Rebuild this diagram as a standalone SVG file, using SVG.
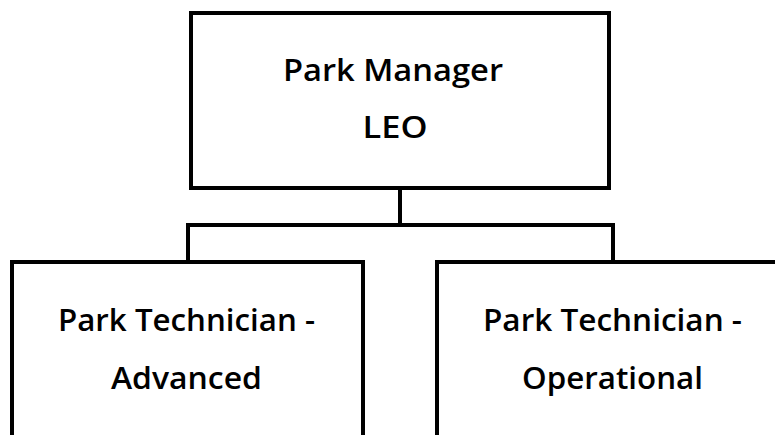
<svg xmlns="http://www.w3.org/2000/svg" width="775" height="435" viewBox="0 0 775 435">
<style>
.box{fill:#fff;stroke:#000;stroke-width:4}
.conn{fill:none;stroke:#000;stroke-width:4}
.lbl{font-family:"Open Sans","Noto Sans","Liberation Sans",sans-serif;font-size:31px;font-weight:600;fill:#000;text-anchor:middle}
</style>
<rect width="775" height="435" fill="#fff"/>
<g id="connectors">
<path class="conn" d="M400 188 V225 M188 225 H613 M188 223 V262 M613 223 V262"/>
</g>
<g id="node-manager">
<rect class="box" x="191" y="13" width="418" height="175"/>
<text class="lbl" x="393" y="81" textLength="220" lengthAdjust="spacingAndGlyphs">Park Manager</text>
<text class="lbl" x="395" y="138" textLength="65" lengthAdjust="spacingAndGlyphs">LEO</text>
</g>
<g id="node-advanced">
<rect class="box" x="12" y="262" width="351" height="190"/>
<text class="lbl" x="186.5" y="331" textLength="257" lengthAdjust="spacingAndGlyphs">Park Technician -</text>
<text class="lbl" x="186.5" y="389" textLength="151" lengthAdjust="spacingAndGlyphs">Advanced</text>
</g>
<g id="node-operational">
<rect class="box" x="437" y="262" width="351" height="190"/>
<text class="lbl" x="612.5" y="331" textLength="259" lengthAdjust="spacingAndGlyphs">Park Technician -</text>
<text class="lbl" x="612.5" y="389" textLength="181" lengthAdjust="spacingAndGlyphs">Operational</text>
</g>
</svg>
